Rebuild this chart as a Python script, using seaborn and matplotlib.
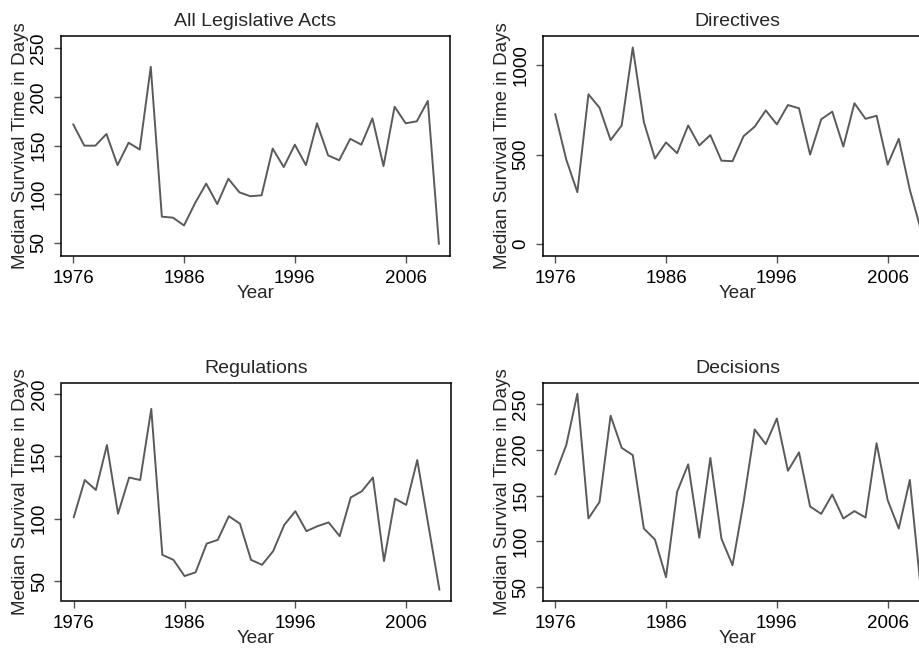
import matplotlib
matplotlib.use("Agg")
import matplotlib.pyplot as plt
import pandas as pd
import seaborn as sns

years = list(range(1976, 2010))

all_acts = [172, 150, 150, 162, 130, 153, 146, 231, 77, 76, 68, 91, 111, 90, 116, 102,
            98, 99, 147, 128, 151, 130, 173, 140, 135, 157, 151, 178, 129, 190, 173, 175,
            196, 49]
directives = [727, 472, 290, 837, 762, 581, 663, 1099, 682, 478, 568, 508, 663, 551, 609, 466,
              463, 603, 656, 747, 669, 777, 759, 500, 697, 740, 545, 787, 700, 717, 444, 588,
              303, 79]
regulations = [101, 131, 123, 159, 104, 133, 131, 188, 71, 67, 54, 57, 80, 83, 102, 96,
               67, 63, 74, 95, 106, 90, 94, 97, 86, 117, 122, 133, 66, 116, 111, 147,
               95, 43]
decisions = [173, 205, 261, 125, 143, 237, 202, 194, 114, 102, 61, 154, 184, 104, 191, 103,
             74, 143, 222, 206, 234, 177, 197, 138, 130, 151, 125, 133, 126, 207, 145, 114,
             167, 47]

panel_titles = ["All Legislative Acts", "Directives", "Regulations", "Decisions"]
panel_ticks = [[50, 100, 150, 200, 250], [0, 500, 1000], [50, 100, 150, 200],
               [50, 100, 150, 200, 250]]
panel_ylims = [(36.6, 262.7), (-67, 1163), (34, 209), (35, 273)]
year_ticks = [1976, 1986, 1996, 2006]

sns.set_style("ticks")
plt.rcParams["font.family"] = ["Liberation Sans", "DejaVu Sans"]
plt.rcParams["font.size"] = 13.5

W, H = 920, 651
fig = plt.figure(figsize=(W / 100, H / 100), dpi=100)
fig.patch.set_facecolor("white")

# axes boxes in pixels: left, top, width, height (right column runs past the edge)
boxes = [(61, 36, 389, 220), (543, 36, 389, 220),
         (61.5, 382.7, 389, 218.3), (543, 382.7, 389, 218.3)]

series = [all_acts, directives, regulations, decisions]

for i, (title, values) in enumerate(zip(panel_titles, series)):
    left, top, w, h = boxes[i]
    ax = fig.add_axes([left / W, (H - top - h) / H, w / W, h / H])
    df = pd.DataFrame({"Year": years, "Median": values})
    sns.lineplot(data=df, x="Year", y="Median", ax=ax, color="#5a5a5a", linewidth=1.4)
    ax.set_xlim(1974.9, 2010.0)
    ax.set_ylim(*panel_ylims[i])
    ax.set_xticks(year_ticks)
    ax.set_yticks(panel_ticks[i])
    ax.set_yticklabels([str(t) for t in panel_ticks[i]], rotation=90, va="center")
    ax.tick_params(direction="out", length=5.3, width=1, color="#555555",
                   labelcolor="black", labelsize=13.5, pad=4.5)
    for side in ["top", "right", "left", "bottom"]:
        ax.spines[side].set_visible(True)
        ax.spines[side].set_linewidth(1.1)
        ax.spines[side].set_color("black")
    ax.set_title(title, fontsize=14, pad=7)
    ax.set_xlabel("Year", fontsize=13.5, labelpad=-1.5)
    ax.set_ylabel("Median Survival Time in Days", fontsize=13.5, labelpad=1)
    ax.set_facecolor("white")

fig.savefig("out.png", dpi=100, facecolor="white")
